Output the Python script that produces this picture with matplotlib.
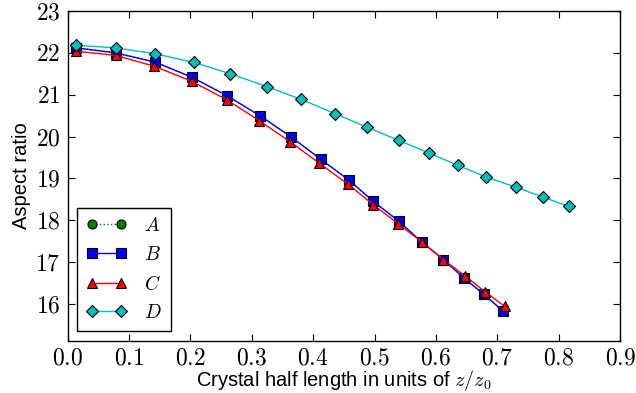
import matplotlib
matplotlib.use('Agg')
import matplotlib.pyplot as plt
from matplotlib.ticker import FormatStrFormatter, MultipleLocator

plt.rcParams['mathtext.fontset'] = 'cm'
plt.rcParams['font.family'] = ['Liberation Sans', 'DejaVu Sans']

# A sits underneath B in the original figure
x_a = [0.013, 0.078, 0.142, 0.202, 0.259, 0.313, 0.364, 0.412, 0.458, 0.498,
       0.539, 0.577, 0.612, 0.646, 0.678, 0.709]
y_a = [22.12, 22.00, 21.78, 21.42, 20.98, 20.50, 19.99, 19.46, 18.96, 18.45,
       17.98, 17.48, 17.06, 16.61, 16.23, 15.83]

x_b = [0.013, 0.078, 0.142, 0.202, 0.259, 0.313, 0.364, 0.412, 0.458, 0.498,
       0.539, 0.577, 0.612, 0.646, 0.678, 0.709]
y_b = [22.12, 22.00, 21.78, 21.42, 20.98, 20.50, 19.99, 19.46, 18.96, 18.45,
       17.98, 17.48, 17.06, 16.61, 16.23, 15.83]

x_c = [0.013, 0.078, 0.141, 0.202, 0.259, 0.312, 0.363, 0.410, 0.456, 0.498,
       0.538, 0.577, 0.612, 0.647, 0.680, 0.712]
y_c = [22.04, 21.94, 21.68, 21.32, 20.88, 20.38, 19.87, 19.36, 18.87, 18.37,
       17.92, 17.48, 17.06, 16.67, 16.29, 15.94]

x_d = [0.013, 0.078, 0.142, 0.206, 0.265, 0.325, 0.380, 0.435, 0.488, 0.539,
       0.588, 0.636, 0.682, 0.730, 0.775, 0.816]
y_d = [22.18, 22.12, 21.98, 21.77, 21.50, 21.19, 20.89, 20.55, 20.22, 19.91,
       19.61, 19.31, 19.03, 18.79, 18.55, 18.33]

labels = ['$A$', '$B$', '$C$', '$D$']

fig = plt.figure(figsize=(6.36, 3.93), dpi=100)
ax = fig.add_axes([0.1064, 0.1331, 0.8686, 0.8389])

mk = dict(markersize=6.5, markeredgecolor='k', markeredgewidth=0.8, linewidth=1.0)
ax.plot(x_a, y_a, 'o:', color=(0, 0.5, 0), label=labels[0], **mk)
ax.plot(x_b, y_b, 's-', color=(0, 0, 1), label=labels[1], **mk)
ax.plot(x_c, y_c, '^-', color=(1, 0, 0), label=labels[2], **mk)
ax.plot(x_d, y_d, 'D-', color=(0, 0.75, 0.75), label=labels[3], **mk)

ax.set_xlim(0, 0.9)
ax.set_ylim(15.12, 23)
ax.xaxis.set_major_locator(MultipleLocator(0.1))
ax.yaxis.set_major_locator(MultipleLocator(1))
ax.xaxis.set_major_formatter(FormatStrFormatter('$%.1f$'))
ax.yaxis.set_major_formatter(FormatStrFormatter('$%d$'))
ax.tick_params(direction='in', length=5, width=0.8, labelsize=17,
               top=True, right=True, pad=5)
for s in ax.spines.values():
    s.set_linewidth(1.0)

ax.set_xlabel('Crystal half length in units of $z/z_0$', fontsize=14.5, labelpad=-1)
ax.set_ylabel('Aspect ratio', fontsize=14.5, labelpad=3)

leg = ax.legend(loc='lower left', numpoints=2, fontsize=14, fancybox=False,
                framealpha=1, edgecolor='k', handlelength=2.07,
                handletextpad=0.92, labelspacing=0.55, borderaxespad=0.5,
                borderpad=0.45)
leg.get_frame().set_linewidth(1.0)

fig.savefig('out.png', dpi=100)
